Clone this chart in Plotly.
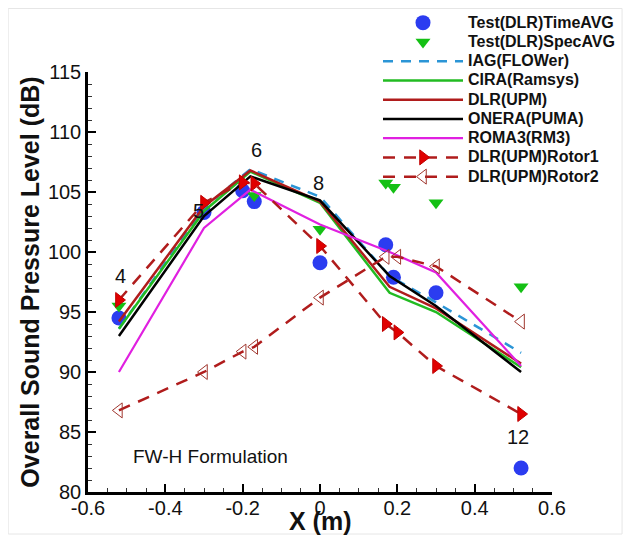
import plotly.graph_objects as go

# ---- data ----
test_time_x = [-0.52, -0.3, -0.2, -0.17, 0.0, 0.17, 0.19, 0.3, 0.52]
test_time_y = [94.5, 103.3, 105.1, 104.2, 99.1, 100.6, 97.9, 96.6, 82.0]

test_spec_x = [-0.52, -0.17, 0.0, 0.17, 0.19, 0.3, 0.52]
test_spec_y = [95.5, 104.7, 101.9, 105.75, 105.4, 104.1, 97.1]

sim_x = [-0.52, -0.3, -0.18, 0.0, 0.18, 0.3, 0.52]
iag_y = [93.6, 103.7, 106.9, 104.6, 98.0, 95.8, 91.6]
cira_y = [93.6, 103.4, 106.7, 104.1, 96.6, 95.0, 90.4]
dlr_y = [94.2, 103.8, 106.8, 104.2, 97.1, 95.3, 90.7]
onera_y = [93.0, 103.0, 106.3, 104.3, 98.0, 95.5, 90.0]
roma_y = [90.0, 102.0, 105.2, 102.3, 100.0, 98.3, 90.5]

rotor_x = [-0.52, -0.3, -0.2, -0.17, 0.0, 0.17, 0.2, 0.3, 0.52]
rotor1_y = [96.0, 104.1, 105.8, 105.7, 100.5, 94.0, 93.3, 90.5, 86.5]
rotor2_y = [86.8, 90.0, 91.7, 92.1, 96.2, 99.6, 99.6, 98.8, 94.2]

mic_labels = ["4", "5", "6", "8", "12"]
mic_label_x = [-0.515, -0.315, -0.163, -0.005, 0.512]
mic_label_y = [98.0, 103.4, 108.5, 105.75, 84.6]

x_ticks = [-0.6, -0.4, -0.2, 0, 0.2, 0.4, 0.6]
x_ticktext = ["-0.6", "-0.4", "-0.2", "0", "0.2", "0.4", "0.6"]
y_ticks = [80, 85, 90, 95, 100, 105, 110, 115]

FONT = "Arial, Liberation Sans, sans-serif"


def lg(name):
    return '<span style="font-size:16px">' + name + '</span>'


fig = go.Figure()

fig.add_trace(go.Scatter(x=test_time_x, y=test_time_y, mode="markers", name=lg("Test(DLR)TimeAVG"),
                         marker=dict(symbol="circle", size=15, color="#2b3cf0")))
fig.add_trace(go.Scatter(x=test_spec_x, y=test_spec_y, mode="markers", name=lg("Test(DLR)SpecAVG"),
                         marker=dict(symbol="triangle-down", size=13, color="#14c014")))
fig.add_trace(go.Scatter(x=sim_x, y=iag_y, mode="lines", name=lg("IAG(FLOWer)"),
                         line=dict(color="#2b95d6", width=2.5, dash="10px,8px")))
fig.add_trace(go.Scatter(x=sim_x, y=cira_y, mode="lines", name=lg("CIRA(Ramsys)"),
                         line=dict(color="#22bb22", width=2.5)))
fig.add_trace(go.Scatter(x=sim_x, y=dlr_y, mode="lines", name=lg("DLR(UPM)"),
                         line=dict(color="#b01c1c", width=2.5)))
fig.add_trace(go.Scatter(x=sim_x, y=onera_y, mode="lines", name=lg("ONERA(PUMA)"),
                         line=dict(color="#000000", width=2.5)))
fig.add_trace(go.Scatter(x=sim_x, y=roma_y, mode="lines", name=lg("ROMA3(RM3)"),
                         line=dict(color="#e020e0", width=2.2)))
fig.add_trace(go.Scatter(x=rotor_x, y=rotor1_y, mode="lines+markers", name=lg("DLR(UPM)Rotor1"),
                         line=dict(color="#b01c1c", width=2.5, dash="12px,9px"),
                         marker=dict(symbol="triangle-right", size=13, color="#e00000",
                                     line=dict(color="#c00000", width=1))))
fig.add_trace(go.Scatter(x=rotor_x, y=rotor2_y, mode="lines+markers", name=lg("DLR(UPM)Rotor2"),
                         line=dict(color="#b01c1c", width=2.5, dash="12px,9px"),
                         marker=dict(symbol="triangle-left-open", size=13, color="#a0362e",
                                     line=dict(width=1))))

for t, x, y in zip(mic_labels, mic_label_x, mic_label_y):
    fig.add_annotation(x=x, y=y, text=t, showarrow=False,
                       font=dict(family=FONT, size=20, color="#111111"))

fig.add_annotation(x=-0.282, y=83.0, text="FW-H Formulation", showarrow=False,
                   font=dict(family=FONT, size=19, color="#111111"))

# x-axis title placed just below the tick labels
fig.add_annotation(xref="paper", yref="paper", x=0.5, y=0, yanchor="middle", yshift=-29,
                   text="<b>X (m)</b>", showarrow=False,
                   font=dict(family=FONT, size=25, color="#111111"))

fig.add_shape(type="rect", xref="paper", yref="paper", x0=-0.172, x1=1.151, y0=-0.0868, y1=0.999,
              line=dict(color="#e6e6e6", width=1), layer="below")

axis_common = dict(
    showgrid=False, zeroline=False, showline=True, linecolor="black", linewidth=2.5,
    ticks="inside", ticklen=8, tickwidth=2, tickcolor="black",
    tickfont=dict(family=FONT, size=20, color="#111111"),
    mirror=False, automargin=False,
)

fig.update_xaxes(range=[-0.6, 0.6], tickmode="array",
                 tickvals=x_ticks, ticktext=x_ticktext, ticklabelstandoff=-4,
                 minor=dict(dtick=0.05, tick0=0, ticks="inside", ticklen=4, tickwidth=1, tickcolor="#333"),
                 **axis_common)
fig.update_yaxes(range=[80, 115], tickmode="array", tickvals=y_ticks,
                 domain=[0, 420 / 484],
                 minor=dict(dtick=1, tick0=80, ticks="inside", ticklen=4, tickwidth=1, tickcolor="#333"),
                 title=dict(text="<b>Overall Sound Pressure Level (dB)</b>",
                            font=dict(family=FONT, size=25, color="#111111"), standoff=2),
                 **axis_common)

fig.update_layout(
    width=626, height=530,
    margin=dict(l=80, r=82, t=0, b=46),
    paper_bgcolor="white", plot_bgcolor="white",
    font=dict(family=FONT),
    showlegend=True,
    legend=dict(x=0.625, y=1.0, xanchor="left", yanchor="top",
                bgcolor="rgba(0,0,0,0)", borderwidth=0,
                itemwidth=80, tracegroupgap=0,
                font=dict(family=FONT, size=12.5, color="#111111", weight="bold")),
)

fig.write_html("out.html")
